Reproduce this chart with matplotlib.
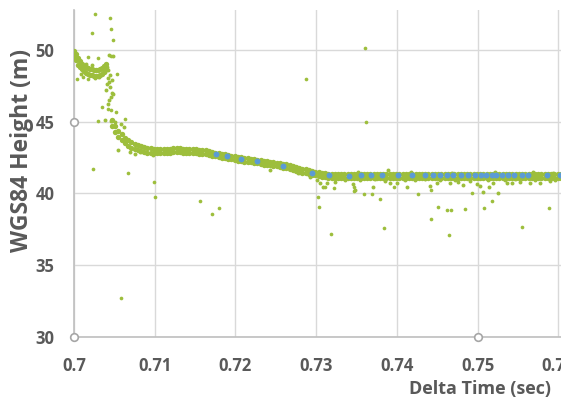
import numpy as np
import matplotlib.pyplot as plt

# ---- data ----
# start of record (0.700 - 0.704 s), upper and lower edge of the cloud
early_x = [0.70000, 0.70025, 0.70050, 0.70074, 0.70099, 0.70124, 0.70149, 0.70173, 0.70198,
           0.70223, 0.70248, 0.70272, 0.70297, 0.70322, 0.70347, 0.70372, 0.70396]
early_hi = [49.92, 49.72, 49.41, 49.2, 49.03, 48.9, 48.8, 48.72, 48.66,
            48.65, 48.6, 48.6, 48.62, 48.66, 48.72, 48.86, 49.05]
early_lo = [49.48, 49.27, 48.98, 48.78, 48.64, 48.5, 48.4, 48.3, 48.24,
            48.23, 48.2, 48.17, 48.19, 48.23, 48.3, 48.45, 48.66]

# main cloud after the jump, upper and lower edge
band_x = [0.7047, 0.7051, 0.7055, 0.7059, 0.7063, 0.7067, 0.7071, 0.7075, 0.7079, 0.7083,
          0.7087, 0.7091, 0.7095, 0.7099, 0.7103, 0.7107, 0.7111, 0.7115, 0.7119, 0.7123,
          0.7127, 0.7131, 0.7135, 0.7139, 0.7143, 0.7147, 0.7151, 0.7155, 0.7159, 0.7163,
          0.7167, 0.7171, 0.7175, 0.7179, 0.7183, 0.7187, 0.7191, 0.7195, 0.7199, 0.7203,
          0.7207, 0.7211, 0.7215, 0.7219, 0.7223, 0.7227, 0.7231, 0.7235, 0.7239, 0.7243,
          0.7247, 0.7251, 0.7255, 0.7259, 0.7263, 0.7267, 0.7271, 0.7275, 0.7279, 0.7283,
          0.7287, 0.7291, 0.7295, 0.7299, 0.7303, 0.7307, 0.7311, 0.7315, 0.7319, 0.7323,
          0.7327, 0.7331, 0.7335, 0.7339, 0.7343, 0.7347, 0.7351, 0.7355, 0.7359, 0.7363,
          0.7367, 0.7371, 0.7375, 0.7379, 0.7383, 0.7387, 0.7391, 0.7395, 0.7399, 0.7403,
          0.7407, 0.7411, 0.7415, 0.7419, 0.7423, 0.7427, 0.7431, 0.7435, 0.7439, 0.7443,
          0.7447, 0.7451, 0.7455, 0.7459, 0.7463, 0.7467, 0.7471, 0.7475, 0.7479, 0.7483,
          0.7487, 0.7491, 0.7495, 0.7499, 0.7503, 0.7507, 0.7511, 0.7515, 0.7519, 0.7523,
          0.7527, 0.7531, 0.7535, 0.7539, 0.7543, 0.7547, 0.7551, 0.7555, 0.7559, 0.7563,
          0.7567, 0.7571, 0.7575, 0.7579, 0.7583, 0.7587, 0.7591, 0.7595, 0.7599, 0.7603]
band_hi = [45.1, 44.72, 44.36, 44.1, 43.88, 43.7, 43.55, 43.45, 43.36, 43.3,
           43.22, 43.15, 43.12, 43.1, 43.08, 43.09, 43.07, 43.1, 43.1, 43.12,
           43.13, 43.12, 43.11, 43.08, 43.09, 43.07, 43.06, 43.04, 43.0, 42.98,
           42.93, 42.89, 42.84, 42.79, 42.76, 42.71, 42.68, 42.63, 42.6, 42.55,
           42.52, 42.48, 42.46, 42.42, 42.4, 42.35, 42.32, 42.27, 42.25, 42.21,
           42.19, 42.14, 42.11, 42.05, 42.01, 41.95, 41.9, 41.83, 41.78, 41.71,
           41.67, 41.61, 41.57, 41.51, 41.48, 41.43, 41.4, 41.36, 41.35, 41.33,
           41.33, 41.35, 41.32, 41.34, 41.36, 41.33, 41.35, 41.32, 41.34, 41.33,
           41.36, 41.34, 41.32, 41.35, 41.33, 41.34, 41.36, 41.32, 41.35, 41.33,
           41.34, 41.32, 41.36, 41.33, 41.35, 41.34, 41.32, 41.35, 41.33, 41.36,
           41.34, 41.33, 41.35, 41.32, 41.34, 41.36, 41.33, 41.35, 41.32, 41.34,
           41.33, 41.36, 41.34, 41.32, 41.35, 41.33, 41.34, 41.36, 41.32, 41.35,
           41.33, 41.34, 41.32, 41.36, 41.33, 41.35, 41.34, 41.32, 41.35, 41.33,
           41.36, 41.34, 41.32, 41.35, 41.33, 41.34, 41.36, 41.33, 41.35, 41.34]
band_lo = [44.7, 44.3, 43.95, 43.68, 43.47, 43.3, 43.18, 43.08, 43.02, 42.96,
           42.9, 42.84, 42.83, 42.84, 42.8, 42.83, 42.81, 42.84, 42.83, 42.86,
           42.87, 42.85, 42.84, 42.82, 42.81, 42.8, 42.8, 42.77, 42.73, 42.71,
           42.66, 42.62, 42.57, 42.52, 42.49, 42.44, 42.41, 42.36, 42.33, 42.28,
           42.25, 42.21, 42.19, 42.15, 42.13, 42.08, 42.05, 42.0, 41.98, 41.94,
           41.92, 41.87, 41.84, 41.78, 41.74, 41.68, 41.63, 41.56, 41.51, 41.44,
           41.4, 41.34, 41.3, 41.24, 41.21, 41.16, 41.13, 41.09, 41.08, 41.06,
           41.07, 41.05, 41.08, 41.06, 41.04, 41.07, 41.05, 41.08, 41.06, 41.07,
           41.04, 41.06, 41.08, 41.05, 41.07, 41.06, 41.04, 41.08, 41.05, 41.07,
           41.06, 41.08, 41.04, 41.07, 41.05, 41.06, 41.08, 41.05, 41.07, 41.04,
           41.06, 41.07, 41.05, 41.08, 41.06, 41.04, 41.07, 41.05, 41.08, 41.06,
           41.07, 41.04, 41.06, 41.08, 41.05, 41.07, 41.06, 41.04, 41.08, 41.05,
           41.07, 41.06, 41.08, 41.04, 41.07, 41.05, 41.06, 41.08, 41.05, 41.07,
           41.04, 41.06, 41.08, 41.05, 41.07, 41.06, 41.04, 41.07, 41.05, 41.06]

# the jump between the two levels
jump_x = [0.70433, 0.70483, 0.70409, 0.70433, 0.70446, 0.70396, 0.70471, 0.70458, 0.70483,
          0.70433, 0.70421, 0.70409, 0.70446, 0.70421, 0.70471, 0.70384, 0.70421, 0.70508,
          0.70384, 0.70458]
jump_y = [49.64, 49.57, 48.81, 47.76, 47.41, 47.2, 46.99, 46.71, 46.92,
          46.5, 46.22, 47.62, 48.25, 48.04, 47.9, 48.46, 48.6, 44.97,
          45.11, 45.05]

# scattered points around the cloud
fringe_x = [0.70086, 0.70260, 0.70310, 0.70150, 0.70220, 0.70545, 0.70694, 0.70756, 0.70817,
            0.70978, 0.71164, 0.72428, 0.72774, 0.73010, 0.73047, 0.73134, 0.73233, 0.72923,
            0.73084, 0.73456, 0.73480, 0.73703, 0.73889, 0.73914, 0.74000, 0.74124, 0.74409,
            0.74496, 0.74657, 0.74756, 0.74818, 0.74991, 0.75029, 0.75066, 0.75140, 0.75190,
            0.75251, 0.75363, 0.75425, 0.75524, 0.75648, 0.75772, 0.75896, 0.73356, 0.73542,
            0.73728, 0.73852, 0.74100, 0.74223, 0.74347, 0.74533, 0.74719, 0.74905, 0.75128,
            0.75338, 0.75462, 0.75710, 0.75957, 0.73520, 0.74180, 0.74680, 0.75210, 0.75690,
            0.75930, 0.70620, 0.70580]
fringe_y = [48.35, 48.05, 48.1, 49.05, 48.95, 43.01, 42.87, 42.73, 42.87,
            42.66, 42.8, 41.62, 41.41, 40.92, 40.71, 40.71, 40.78, 41.13,
            40.43, 40.64, 40.22, 40.43, 41.62, 40.71, 40.71, 40.43, 40.5,
            40.71, 40.71, 40.78, 40.57, 40.64, 40.5, 40.08, 40.43, 40.71,
            40.01, 40.71, 40.71, 40.78, 40.71, 40.71, 40.85, 40.95, 40.9,
            40.98, 40.88, 40.95, 40.9, 40.97, 40.9, 40.95, 40.88, 40.95,
            40.9, 40.97, 40.9, 40.95, 41.45, 41.5, 41.42, 41.47, 41.5,
            41.44, 44.6, 44.85]

# isolated outliers
out_x = [0.70260, 0.70446, 0.70223, 0.70458, 0.70483, 0.70458, 0.70173, 0.70297, 0.70533,
         0.70037, 0.70173, 0.70111, 0.70347, 0.70421, 0.70458, 0.70520, 0.70297, 0.70632,
         0.70235, 0.70669, 0.70991, 0.71003, 0.70582, 0.71709, 0.71796, 0.71561, 0.72873,
         0.73604, 0.73617, 0.73022, 0.73034, 0.73183, 0.73839, 0.73790, 0.73691, 0.73592,
         0.73468, 0.73468, 0.73109, 0.73220, 0.73963, 0.74261, 0.74422, 0.74508, 0.74620,
         0.74669, 0.74645, 0.74843, 0.74929, 0.75078, 0.75177, 0.75549, 0.75883, 0.74422]
out_y = [52.5, 52.22, 51.18, 51.46, 50.69, 49.57, 49.5, 49.43, 48.32,
         47.97, 47.97, 48.11, 46.01, 45.87, 45.8, 45.66, 45.03, 45.17,
         41.69, 41.41, 40.78, 39.73, 32.69, 38.55, 38.97, 39.46, 47.97,
         50.13, 44.98, 39.73, 39.04, 37.15, 37.57, 39.6, 39.94, 39.94,
         40.15, 40.43, 40.43, 40.36, 40.43, 39.94, 38.19, 39.04, 38.83,
         38.83, 37.08, 38.9, 40.01, 38.97, 39.46, 37.64, 38.97, 40.22]

# second (blue) series
gps_x = [0.71756, 0.71892, 0.72069, 0.72271, 0.72594, 0.72953, 0.73164, 0.73404, 0.73556,
         0.73677, 0.73813, 0.74019, 0.74188, 0.74353, 0.74452, 0.74527, 0.74618, 0.74700,
         0.74792, 0.74874, 0.74969, 0.75040, 0.75105, 0.75171, 0.75229, 0.75304, 0.75378,
         0.75452, 0.75543, 0.75626, 0.75857, 0.76022]
gps_y = [42.71, 42.6, 42.4, 42.24, 41.9, 41.44, 41.27, 41.22, 41.25,
         41.25, 41.26, 41.24, 41.26, 41.24, 41.25, 41.24, 41.26, 41.25,
         41.24, 41.25, 41.24, 41.25, 41.25, 41.24, 41.25, 41.24, 41.25,
         41.24, 41.25, 41.25, 41.24, 41.25]

x_ticks = [0.70, 0.71, 0.72, 0.73, 0.74, 0.75, 0.76]
x_labels = ["0.7", "0.71", "0.72", "0.73", "0.74", "0.75", "0.76"]
y_ticks = [30, 35, 40, 45, 50]
sel_x = [0.70, 0.70, 0.75]
sel_y = [45, 30, 30]

green = "#9DBE3C"
blue = "#5B9BD5"
grey_txt = "#595959"

plt.rcParams['font.family'] = ['Open Sans', 'DejaVu Sans']

fig = plt.figure(figsize=(5.61, 4.01), dpi=100)
ax = fig.add_axes([74 / 561, 1 - 336.5 / 401, 487 / 561, 326.5 / 401])

ax.scatter(early_x, early_hi, s=15, color=green, linewidths=0, zorder=3)
ax.scatter(early_x, early_lo, s=15, color=green, linewidths=0, zorder=3)
ax.scatter(band_x, band_hi, s=15, color=green, linewidths=0, zorder=3)
ax.scatter(band_x, band_lo, s=15, color=green, linewidths=0, zorder=3)
ax.scatter(jump_x, jump_y, s=8, color=green, linewidths=0, zorder=3)
ax.scatter(fringe_x, fringe_y, s=8, color=green, linewidths=0, zorder=3)
ax.scatter(out_x, out_y, s=7, color=green, linewidths=0, zorder=3)
ax.scatter(gps_x, gps_y, s=18, color=blue, linewidths=0, zorder=4)

ax.plot(sel_x, sel_y, ls="none", marker="o", ms=5.5, mfc="white", mec="#A6A6A6",
        mew=1.2, clip_on=False, zorder=6)

ax.set_xlim(0.70, 0.70 + 487 / 8074)
ax.set_ylim(30, 30 + 326.5 / 14.33)
ax.set_xticks(x_ticks)
ax.set_xticklabels(x_labels)
ax.set_yticks(y_ticks)
ax.tick_params(length=0, labelsize=12, labelcolor=grey_txt)
ax.tick_params(axis="x", pad=15)
ax.tick_params(axis="y", pad=14)
for lab in ax.get_xticklabels() + ax.get_yticklabels():
    lab.set_fontweight("bold")

ax.grid(True, color="#D9D9D9", lw=1)
ax.set_axisbelow(True)
for side in ["top", "right"]:
    ax.spines[side].set_visible(False)
for side in ["left", "bottom"]:
    ax.spines[side].set_color("#BFBFBF")
    ax.spines[side].set_linewidth(1.2)

fig.text(22 / 561, 1 - 151 / 401, "WGS84 Height (m)", rotation=90, ha="center", va="center",
         fontsize=16.5, fontweight="bold", color=grey_txt)
fig.text(551 / 561, 1 - 389 / 401, "Delta Time (sec)", ha="right", va="center",
         fontsize=13, fontweight="bold", color=grey_txt)

fig.savefig("out.png", dpi=100)
